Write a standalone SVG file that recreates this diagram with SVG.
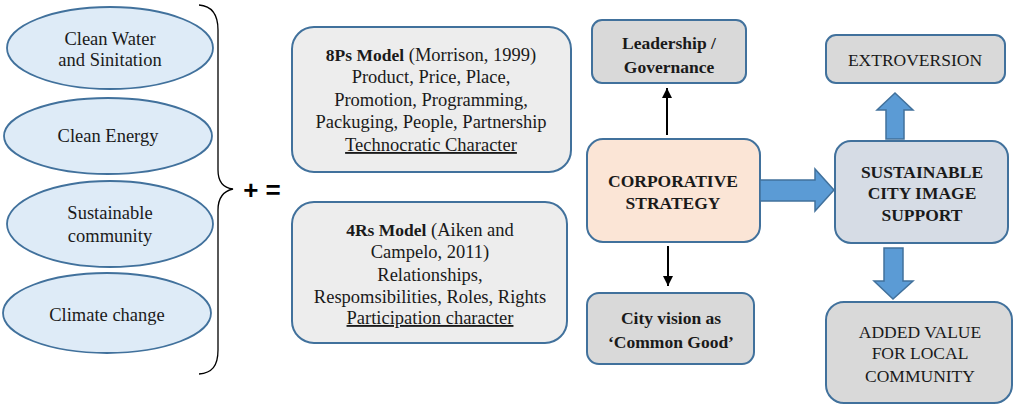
<svg xmlns="http://www.w3.org/2000/svg" width="1013" height="404" viewBox="0 0 1013 404">
<style>
.ell{fill:#deebf7;stroke:#41719c;stroke-width:1.8}
.box{stroke:#41719c;stroke-width:2}
.grey{fill:#ededed}
.dgrey{fill:#d9d9d9}
.peach{fill:#fbe5d6}
.slate{fill:#d6dce5}
.t{font-family:"Liberation Serif","Times New Roman",serif;font-size:18.5px;fill:#1a1a1a;text-anchor:middle}
.b{font-weight:bold;font-size:17.5px}
.c{font-size:17.5px}
.blk{fill:#5b9bd5;stroke:#41719c;stroke-width:1.5}
</style>
<defs>
<marker id="ah" viewBox="0 0 10 10" refX="10" refY="5" markerWidth="10" markerHeight="10" markerUnits="userSpaceOnUse" orient="auto">
<path d="M0,0 L10,5 L0,10 z" fill="#000"/>
</marker>
</defs>
<rect width="1013" height="404" fill="#fff"/>

<g id="n-water">
<ellipse class="ell" cx="110" cy="48" rx="103" ry="41"/>
<text class="t" x="110" y="45">Clean Water</text>
<text class="t" x="110" y="66">and Sinitation</text>
</g>
<g id="n-energy">
<ellipse class="ell" cx="108" cy="136" rx="104" ry="38"/>
<text class="t" x="108" y="142">Clean Energy</text>
</g>
<g id="n-community">
<ellipse class="ell" cx="110" cy="224" rx="103" ry="43"/>
<text class="t" x="110" y="219">Sustainable</text>
<text class="t" x="110" y="242">community</text>
</g>
<g id="n-climate">
<ellipse class="ell" cx="107" cy="313" rx="104" ry="40"/>
<text class="t" x="107" y="321">Climate change</text>
</g>

<g id="n-brace">
<path d="M199,5 C212,6 218,14 218,30 L218,170 C218,182 224,188 233,189 C224,191 218,197 218,210 L218,350 C218,366 212,373 199,374" fill="none" stroke="#000" stroke-width="1.3"/>
<text x="262" y="199" font-family="Liberation Sans,Arial,sans-serif" font-weight="bold" font-size="26" text-anchor="middle" fill="#000">+ =</text>
</g>

<g id="n-8ps">
<rect class="box grey" x="292" y="27" width="279" height="145" rx="22"/>
<text class="t" x="431" y="61"><tspan class="b">8Ps Model</tspan> (Morrison, 1999)</text>
<text class="t" x="431" y="83">Product, Price, Place,</text>
<text class="t" x="431" y="106">Promotion, Programming,</text>
<text class="t" x="431" y="128">Packuging, People, Partnership</text>
<text class="t" x="431" y="151" text-decoration="underline">Technocratic Character</text>
</g>
<g id="n-4rs">
<rect class="box grey" x="292" y="202" width="275" height="141" rx="22"/>
<text class="t" x="430" y="236"><tspan class="b">4Rs Model</tspan> (Aiken and</text>
<text class="t" x="430" y="258">Campelo, 2011)</text>
<text class="t" x="430" y="281">Relationships,</text>
<text class="t" x="430" y="303">Respomsibilities, Roles, Rights</text>
<text class="t" x="430" y="324" text-decoration="underline">Participation character</text>
</g>

<g id="n-leadership">
<rect class="box dgrey" x="592" y="20" width="154" height="63" rx="10"/>
<text class="t b" x="669" y="49">Leadership /</text>
<text class="t b" x="669" y="73">Governance</text>
</g>
<g id="n-corporative">
<rect class="box peach" x="587" y="139" width="173" height="103" rx="16"/>
<text class="t b" x="673" y="187">CORPORATIVE</text>
<text class="t b" x="673" y="209">STRATEGY</text>
</g>
<g id="n-cityvision">
<rect class="box dgrey" x="587" y="293" width="167" height="71" rx="12"/>
<text class="t b" x="671" y="324">City vision as</text>
<text class="t b" x="671" y="348">‘Common Good’</text>
</g>
<g id="n-extroversion">
<rect class="box dgrey" x="826" y="35" width="179" height="48" rx="10"/>
<text class="t c" x="915" y="66">EXTROVERSION</text>
</g>
<g id="n-sustainable">
<rect class="box slate" x="835" y="141" width="173" height="102" rx="16"/>
<text class="t b" x="922" y="178">SUSTAINABLE</text>
<text class="t b" x="922" y="199">CITY IMAGE</text>
<text class="t b" x="922" y="221">SUPPORT</text>
</g>
<g id="n-addedvalue">
<rect class="box dgrey" x="826" y="302" width="186" height="101" rx="18"/>
<text class="t c" x="920" y="338">ADDED VALUE</text>
<text class="t c" x="920" y="359">FOR LOCAL</text>
<text class="t c" x="920" y="382">COMMUNITY</text>
</g>

<g id="connectors">
<line x1="667" y1="135" x2="667" y2="88" stroke="#000" stroke-width="2" marker-end="url(#ah)"/>
<line x1="668" y1="246" x2="668" y2="286" stroke="#000" stroke-width="2" marker-end="url(#ah)"/>
<path class="blk" d="M760,180 L815,180 L815,169 L834,190 L815,211 L815,201 L760,201 z"/>
<path class="blk" d="M886,139 L886,110 L877,110 L895,93 L913,110 L904,110 L904,139 z"/>
<path class="blk" d="M884,248 L903,248 L903,281 L913,281 L893,299 L874,281 L884,281 z"/>
</g>
</svg>
